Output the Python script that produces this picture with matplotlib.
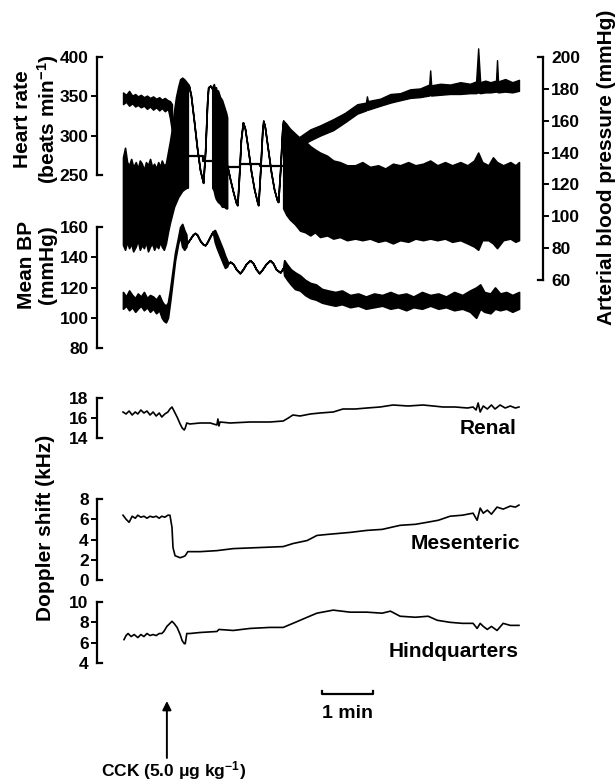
import numpy as np
import matplotlib
matplotlib.use('Agg')
import matplotlib.pyplot as plt
from matplotlib.transforms import blended_transform_factory as blend

plt.rcParams['font.family'] = 'Liberation Sans'
plt.rcParams['font.weight'] = 'bold'
plt.rcParams['mathtext.fontset'] = 'custom'
plt.rcParams['mathtext.rm'] = 'Liberation Sans:bold'
plt.rcParams['mathtext.it'] = 'Liberation Sans:bold'
plt.rcParams['mathtext.bf'] = 'Liberation Sans:bold'
plt.rcParams['mathtext.default'] = 'rm'

# ---- data (time in minutes from start of trace) ----
cck_t = 0.86
scale_t = 3.90

# heart rate (beats/min), noisy band before and after, rate-meter steps in between
hr_pre_t = [0.00, 0.06, 0.12, 0.18, 0.24, 0.29, 0.35, 0.41, 0.47, 0.53, 0.59, 0.65, 0.71, 0.76, 0.82, 0.88, 0.92, 0.96]
hr_pre_hi = [355, 352, 357, 351, 353, 350, 352, 349, 351, 348, 350, 347, 349, 346, 348, 345, 344, 340]
hr_pre_lo = [340, 343, 338, 341, 337, 339, 336, 338, 334, 337, 333, 336, 332, 335, 331, 334, 322, 305]
hr_step_t = [1.18, 1.57, 1.76, 2.04, 2.29, 2.69, 3.14]
hr_step_v = [274, 268, 268, 260, 264, 262, 262]
hr_post_t = [3.14, 3.27, 3.47, 3.67, 3.86, 4.12, 4.35, 4.59, 4.76, 4.78, 4.80, 5.04, 5.24, 5.43, 5.63, 5.82, 6.00,
             6.02, 6.04, 6.22, 6.41, 6.61, 6.80, 6.92, 6.96, 7.00, 7.10, 7.20, 7.31, 7.33, 7.35, 7.49, 7.63, 7.76]
hr_post_hi = [284, 292, 299, 308, 313, 321, 329, 340, 342, 350, 344, 347, 353, 354, 359, 360, 365,
              383, 364, 366, 365, 368, 366, 369, 411, 368, 370, 368, 370, 396, 369, 372, 368, 371]
hr_post_lo = [275, 282, 287, 294, 300, 307, 317, 328, 332, 333, 333, 338, 342, 345, 348, 349, 351,
              352, 351, 352, 353, 353, 354, 354, 355, 354, 355, 355, 356, 356, 355, 356, 355, 357]

# arterial (pulsatile) blood pressure envelope, mmHg
ap_a_t = [0.00, 0.04, 0.08, 0.12, 0.16, 0.20, 0.25, 0.29, 0.33, 0.37, 0.41, 0.45, 0.49, 0.53, 0.57, 0.61, 0.65,
          0.69, 0.73, 0.76, 0.80, 0.84, 0.88, 0.92, 0.96, 1.00, 1.04, 1.08, 1.12, 1.16, 1.20, 1.25, 1.27]
ap_a_hi = [137, 143, 134, 132, 136, 131, 134, 130, 135, 133, 129, 134, 132, 136, 131, 133, 130,
           134, 131, 135, 132, 133, 140, 147, 155, 166, 175, 181, 186, 187, 186, 184, 183]
ap_a_lo = [82, 79, 84, 80, 83, 78, 81, 85, 79, 82, 80, 84, 78, 81, 83, 79, 82,
           80, 84, 81, 79, 83, 90, 96, 101, 106, 109, 112, 114, 116, 117, 118, 118]
ap_b_t = [1.27, 1.29, 1.33, 1.39, 1.45, 1.51, 1.57, 1.61, 1.65, 1.67, 1.71, 1.75]
ap_b = [183, 182, 176, 160, 143, 129, 121, 141, 172, 181, 182, 180]
ap_c_t = [1.75, 1.78, 1.80, 1.82, 1.84, 1.86, 1.90, 1.94, 1.98, 2.02, 2.04]
ap_c_hi = [181, 183, 180, 181, 178, 179, 175, 173, 169, 165, 162]
ap_c_lo = [118, 116, 113, 111, 110, 109, 108, 106, 106, 105, 105]
ap_d_t = [2.04, 2.10, 2.16, 2.22, 2.24, 2.27, 2.31, 2.35, 2.39, 2.45, 2.51, 2.57, 2.63,
          2.65, 2.69, 2.73, 2.75, 2.78, 2.84, 2.90, 2.96, 3.02, 3.04, 3.08, 3.12, 3.14]
ap_d = [132, 123, 115, 108, 107, 123, 148, 159, 155, 142, 128, 117, 109,
        107, 129, 154, 160, 156, 142, 128, 117, 110, 109, 129, 154, 160]
ap_e_t = [3.14, 3.20, 3.27, 3.37, 3.47, 3.57, 3.67, 3.76, 3.86, 4.00, 4.12, 4.25, 4.39, 4.55, 4.69, 4.84, 5.00,
          5.14, 5.29, 5.43, 5.59, 5.73, 5.88, 6.02, 6.16, 6.31, 6.45, 6.61, 6.75, 6.88, 6.96, 7.04, 7.16, 7.25,
          7.33, 7.45, 7.59, 7.69, 7.76]
ap_e_hi = [160, 158, 155, 152, 149, 147, 144, 142, 140, 138, 135, 134, 132, 132, 134, 131, 132,
           130, 133, 132, 134, 132, 133, 135, 132, 134, 132, 134, 132, 135, 140, 134, 132, 137,
           134, 132, 134, 132, 134]
ap_e_lo = [105, 101, 98, 95, 91, 90, 88, 90, 87, 88, 86, 87, 85, 86, 85, 86, 84,
           85, 83, 85, 84, 86, 85, 86, 85, 86, 84, 85, 83, 81, 79, 85, 85, 83,
           80, 85, 86, 84, 85]

# mean blood pressure, mmHg
mbp_a_t = [0.00, 0.06, 0.12, 0.18, 0.24, 0.29, 0.35, 0.41, 0.47, 0.53, 0.59, 0.65, 0.71, 0.76, 0.80, 0.84, 0.88,
           0.92, 0.96, 1.02, 1.08, 1.12, 1.16, 1.20, 1.24]
mbp_a_hi = [117, 114, 118, 115, 113, 116, 114, 117, 113, 115, 114, 112, 115, 111, 109, 108, 110,
            118, 128, 143, 153, 160, 162, 158, 155]
mbp_a_lo = [106, 108, 105, 107, 104, 106, 108, 105, 107, 104, 106, 103, 105, 100, 98, 97, 100,
            110, 121, 138, 149, 154, 147, 145, 147]
mbp_b_t = [1.25, 1.31, 1.37, 1.41, 1.45, 1.51, 1.57, 1.61, 1.65, 1.71, 1.76]
mbp_b = [149, 152, 155, 156, 155, 151, 148.5, 148, 150, 154, 157]
mbp_c_t = [1.80, 1.84, 1.90, 1.96, 2.00, 2.04]
mbp_c_hi = [158, 155, 150, 145, 141, 138]
mbp_c_lo = [150, 146, 141, 136, 133, 134]
mbp_d_t = [2.06, 2.10, 2.16, 2.22, 2.29, 2.35, 2.41, 2.49, 2.55, 2.61, 2.67, 2.73, 2.80, 2.88, 2.94, 3.00, 3.08, 3.14]
mbp_d = [136, 137, 135.5, 132, 129.5, 132, 135.5, 138, 136, 132, 129.5, 132, 135.5, 138, 136, 132, 130, 133]
mbp_e_t = [3.16, 3.22, 3.29, 3.37, 3.47, 3.57, 3.67, 3.78, 3.90, 4.02, 4.16, 4.29, 4.45, 4.61, 4.76, 4.92, 5.08,
           5.24, 5.39, 5.55, 5.69, 5.86, 6.02, 6.18, 6.33, 6.49, 6.65, 6.80, 6.92, 7.00, 7.08, 7.20, 7.29,
           7.39, 7.51, 7.63, 7.76]
mbp_e_hi = [138, 135, 132, 130, 128, 125, 123, 122, 119, 118, 117, 118, 115, 116, 114, 116, 115,
            117, 115, 116, 114, 117, 115, 116, 114, 117, 115, 118, 120, 122, 117, 116, 120,
            116, 117, 115, 117]
mbp_e_lo = [128, 125, 122, 119, 118, 115, 113, 112, 110, 109, 108, 109, 107, 108, 106, 107, 108,
            106, 107, 105, 107, 106, 108, 106, 107, 105, 106, 104, 100, 106, 104, 103, 106,
            105, 106, 104, 106]

# Doppler shift, kHz
renal_t = [0.00, 0.06, 0.12, 0.18, 0.24, 0.29, 0.35, 0.41, 0.47, 0.53, 0.59, 0.65, 0.71, 0.76, 0.82, 0.88,
           0.92, 0.96, 1.00, 1.06, 1.12, 1.16, 1.20, 1.22, 1.25, 1.31, 1.51, 1.71, 1.84, 1.86, 1.88, 1.90,
           2.10, 2.49, 2.88, 3.14, 3.24, 3.33, 3.47, 3.67, 3.86, 4.12, 4.31, 4.55, 4.78, 5.04, 5.29, 5.59,
           5.88, 6.08, 6.27, 6.51, 6.75, 6.86, 6.92, 6.96, 7.00, 7.06, 7.14, 7.22, 7.29, 7.39, 7.49, 7.59,
           7.69, 7.76]
renal = [16.6, 16.4, 16.7, 16.3, 16.6, 16.4, 16.8, 16.5, 16.7, 16.3, 16.6, 16.2, 16.5, 16.1, 16.4, 16.6,
         16.9, 17.1, 16.7, 16.1, 15.4, 15.0, 14.8, 15.0, 15.5, 15.4, 15.5, 15.5, 15.3, 15.9, 15.2, 15.6,
         15.5, 15.6, 15.6, 15.7, 16.0, 16.3, 16.2, 16.4, 16.5, 16.6, 16.9, 16.9, 17.0, 17.1, 17.3, 17.2,
         17.3, 17.2, 17.1, 17.1, 17.0, 17.1, 16.8, 17.5, 16.6, 17.2, 16.9, 17.3, 16.9, 17.3, 17.0, 17.2,
         17.0, 17.1]
mes_t = [0.00, 0.06, 0.12, 0.18, 0.24, 0.29, 0.35, 0.41, 0.47, 0.53, 0.59, 0.65, 0.71, 0.76, 0.82, 0.88,
         0.92, 0.96, 0.98, 1.02, 1.12, 1.18, 1.22, 1.27, 1.51, 1.84, 2.16, 2.65, 3.14, 3.33, 3.61, 3.80,
         4.00, 4.45, 4.78, 5.08, 5.43, 5.73, 5.96, 6.18, 6.41, 6.65, 6.86, 6.94, 7.00, 7.06, 7.14, 7.22,
         7.33, 7.45, 7.59, 7.69, 7.76]
mes = [6.4, 6.0, 5.7, 6.3, 6.1, 6.4, 6.2, 6.3, 6.1, 6.3, 6.2, 6.3, 6.1, 6.3, 6.2, 6.4,
       6.4, 5.2, 3.2, 2.4, 2.2, 2.3, 2.4, 2.8, 2.8, 2.9, 3.1, 3.2, 3.3, 3.6, 3.9, 4.4,
       4.5, 4.7, 4.9, 5.0, 5.4, 5.5, 5.7, 5.9, 6.3, 6.4, 6.6, 5.9, 7.1, 6.6, 6.9, 6.5,
       7.2, 7.0, 7.3, 7.2, 7.4]
hq_t = [0.02, 0.06, 0.10, 0.16, 0.22, 0.29, 0.35, 0.41, 0.47, 0.53, 0.59, 0.65, 0.71, 0.76, 0.80, 0.86,
        0.92, 0.96, 1.00, 1.06, 1.12, 1.16, 1.20, 1.22, 1.25, 1.31, 1.51, 1.84, 1.88, 2.16, 2.49, 2.88,
        3.14, 3.33, 3.61, 3.80, 4.12, 4.45, 4.78, 5.08, 5.24, 5.43, 5.73, 5.98, 6.16, 6.41, 6.65, 6.86,
        6.94, 7.00, 7.06, 7.14, 7.22, 7.33, 7.45, 7.59, 7.76]
hq = [6.3, 6.7, 6.9, 6.6, 6.8, 6.5, 6.8, 6.6, 6.9, 6.7, 6.8, 6.7, 6.9, 6.9, 7.1, 7.6,
      7.9, 8.1, 7.9, 7.5, 6.8, 6.2, 5.9, 5.9, 6.9, 6.9, 7.0, 7.1, 7.3, 7.2, 7.4, 7.5,
      7.5, 7.9, 8.5, 8.9, 9.2, 9.0, 9.0, 8.9, 9.1, 8.6, 8.5, 8.6, 8.2, 8.0, 7.9, 7.9,
      7.4, 7.9, 7.6, 7.3, 7.6, 7.2, 7.9, 7.7, 7.7]

# ---- layout ----
W, H = 616, 783
X0, X1 = 123, 520
T_END = 7.78
fig = plt.figure(figsize=(W / 100, H / 100), dpi=100)


def panel(top, bottom, ylim):
    ax = fig.add_axes([X0 / W, 1 - bottom / H, (X1 - X0) / W, (bottom - top) / H])
    ax.patch.set_visible(False)
    for s in ax.spines.values():
        s.set_visible(False)
    ax.set_xticks([])
    ax.set_xlim(0, T_END)
    ax.set_ylim(*ylim)
    return ax


def bracket(ax, ticks, side='left', off=26, fs=12.5):
    # scale bar style axis: inward caps at the ends, outward ticks in between
    sp = ax.spines[side]
    sp.set_visible(True)
    sp.set_position(('outward', off * 0.72))
    sp.set_bounds(ticks[0], ticks[-1])
    sp.set_linewidth(1.6)
    ax.yaxis.set_ticks_position(side)
    ends = [ticks[0], ticks[-1]]
    mids = ticks[1:-1]
    ax.set_yticks(mids, labels=[str(v) for v in mids])
    ax.set_yticks(ends, labels=[str(v) for v in ends], minor=True)
    ax.set_ylim(ticks[0], ticks[-1])
    ax.tick_params(axis='y', which='major', direction='out', length=4, width=1.4, pad=2, labelsize=fs)
    ax.tick_params(axis='y', which='minor', length=0, pad=6, labelsize=fs)
    w = X1 - X0
    xs = [-off / w, (-off + 5) / w] if side == 'left' else [1 + off / w, 1 + (off - 5) / w]
    tr = blend(ax.transAxes, ax.transData)
    for v in ends:
        ax.plot(xs, [v, v], transform=tr, color='k', lw=1.6, clip_on=False, solid_capstyle='projecting')


ax_bp = panel(57, 280, (60, 200))
bracket(ax_bp, [60, 80, 100, 120, 140, 160, 180, 200], side='right', off=23)
ax_hr = panel(57, 175, (250, 400))
bracket(ax_hr, [250, 300, 350, 400])
ax_mbp = panel(227, 348, (80, 160))
bracket(ax_mbp, [80, 100, 120, 140, 160])
ax_ren = panel(398, 438, (14, 18))
bracket(ax_ren, [14, 16, 18])
ax_mes = panel(499, 580, (0, 8))
bracket(ax_mes, [0, 2, 4, 6, 8])
ax_hq = panel(602, 663, (4, 10))
bracket(ax_hq, [4, 6, 8, 10])

# pulsatile arterial pressure
ap_t = np.concatenate([ap_a_t, ap_b_t, ap_c_t, ap_d_t, ap_e_t])
ap_hi = np.concatenate([ap_a_hi, ap_b, ap_c_hi, ap_d, ap_e_hi])
ap_lo = np.concatenate([ap_a_lo, ap_b, ap_c_lo, ap_d, ap_e_lo])
ax_bp.fill_between(ap_t, ap_lo, ap_hi, color='k', lw=1.2, clip_on=False)

# heart rate
ax_hr.fill_between(hr_pre_t, hr_pre_lo, hr_pre_hi, color='k', lw=1.0, clip_on=False)
ax_hr.fill_between(hr_post_t, hr_post_lo, hr_post_hi, color='k', lw=1.0, clip_on=False)
ax_hr.plot(hr_step_t, hr_step_v, drawstyle='steps-post', color='k', lw=1.6, clip_on=False)

# mean BP
mbp_t = np.concatenate([mbp_a_t, mbp_b_t, mbp_c_t, mbp_d_t, mbp_e_t])
mbp_hi = np.concatenate([mbp_a_hi, mbp_b, mbp_c_hi, mbp_d, mbp_e_hi])
mbp_lo = np.concatenate([mbp_a_lo, mbp_b, mbp_c_lo, mbp_d, mbp_e_lo])
ax_mbp.fill_between(mbp_t, mbp_lo, mbp_hi, color='k', lw=1.3, clip_on=False)

# Doppler traces
ax_ren.plot(renal_t, renal, color='k', lw=1.2, clip_on=False)
ax_mes.plot(mes_t, mes, color='k', lw=1.2, clip_on=False)
ax_hq.plot(hq_t, hq, color='k', lw=1.2, clip_on=False)

ax_ren.text(7.72, 14.9, 'Renal', ha='right', va='center', fontsize=15)
ax_mes.text(7.78, 3.64, 'Mesenteric', ha='right', va='center', fontsize=15)
ax_hq.text(7.76, 5.18, 'Hindquarters', ha='right', va='center', fontsize=15)

# axis titles
fig.text(37 / W, 1 - 119 / H, 'Heart rate\n(beats min$^{-1}$)', rotation=90, ha='center', va='center',
         multialignment='center', fontsize=15, linespacing=1.15)
fig.text(37 / W, 1 - 265 / H, 'Mean BP\n(mmHg)', rotation=90, ha='center', va='center',
         multialignment='center', fontsize=15, linespacing=1.15)
fig.text(46 / W, 1 - 528 / H, 'Doppler shift (kHz)', rotation=90, ha='center', va='center', fontsize=15)
fig.text(606 / W, 1 - 167 / H, 'Arterial blood pressure (mmHg)', rotation=90, ha='center', va='center', fontsize=15)

# time scale bar and CCK marker
tr = blend(ax_hq.transData, fig.transFigure)
ax_hq.plot([scale_t, scale_t, scale_t + 1, scale_t + 1], [1 - 691 / H, 1 - 694 / H, 1 - 694 / H, 1 - 691 / H],
           transform=tr, color='k', lw=1.6, clip_on=False)
ax_hq.text(scale_t + 0.5, 1 - 713 / H, '1 min', transform=tr, ha='center', va='center', fontsize=14)
ax_hq.annotate('', xy=(cck_t, 1 - 701 / H), xytext=(cck_t, 1 - 758 / H), xycoords=tr, textcoords=tr,
               arrowprops=dict(arrowstyle='-|>', color='k', lw=1.4, mutation_scale=13, shrinkA=0, shrinkB=0))
ax_hq.text(cck_t + 0.14, 1 - 771 / H, 'CCK (5.0 μg kg$^{-1}$)', transform=tr, ha='center', va='center', fontsize=12.5)

fig.savefig('out.png', dpi=100)
